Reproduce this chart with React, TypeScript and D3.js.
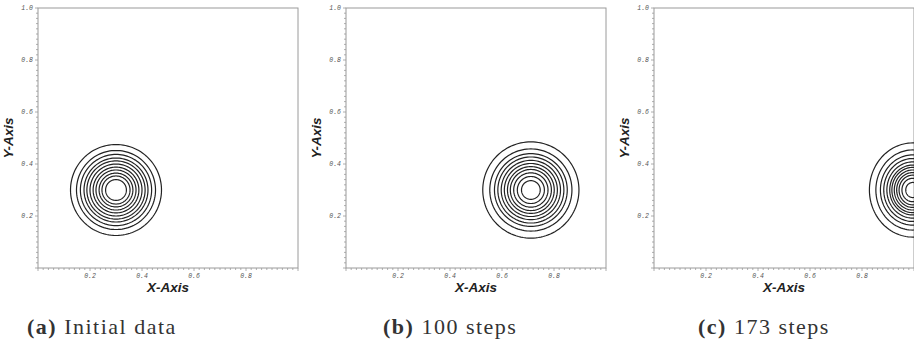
import React from "react";
import * as d3 from "d3";

// Contour plots of an advected bump at three times.
const panelIds = ["a", "b", "c"];
const panelCaptions = ["Initial data", "100 steps", "173 steps"];
// Bump centre (x, y) for each panel
const centerX = [0.3, 0.711, 0.995];
const centerY = [0.3, 0.3, 0.3];
// Contour radii (vertical extent, data units), outermost first
const radiiA = [0.175, 0.152, 0.137, 0.123, 0.112, 0.1, 0.088, 0.077, 0.065, 0.054, 0.04];
const radiiB = [0.185, 0.158, 0.14, 0.127, 0.114, 0.102, 0.09, 0.079, 0.066, 0.052, 0.036];
const radiiC = [0.181, 0.154, 0.135, 0.121, 0.108, 0.096, 0.087, 0.077, 0.067, 0.057, 0.045, 0.029];
// Squeeze of the trailing (left) side of each bump
const trailSqueeze = [1, 1, 0.92];
const tickValues = [0.2, 0.4, 0.6, 0.8, 1.0];

const radiiByPanel = [radiiA, radiiB, radiiC];

const W = 914;
const H = 343;
const SIZE = 260;
const TOP = 8;
const LEFTS = [38, 346, 654];
const CAPTION_X = [27, 383, 698];

function Panel({ i }: { i: number }) {
  const left = LEFTS[i];
  const x = d3.scaleLinear().domain([0, 1]).range([left, left + SIZE]);
  const y = d3.scaleLinear().domain([0, 1]).range([TOP + SIZE, TOP]);
  const minor = d3.range(0, 51).map((k) => k / 50);
  const angles = d3.range(0, 361, 3).map((a) => (a * Math.PI) / 180);
  const cx = centerX[i];
  const cy = centerY[i];
  const sq = trailSqueeze[i];
  let currentR = 0;
  const line = d3
    .line<number>()
    .x((t) => {
      const c = Math.cos(t);
      return x(cx + c * (c < 0 ? sq : 1) * currentR);
    })
    .y((t) => y(cy + Math.sin(t) * currentR))
    .curve(d3.curveLinearClosed);
  const clipId = `clip-${panelIds[i]}`;
  const frame = "#9a9a9a";
  const tickFont = "'Liberation Mono', 'DejaVu Sans Mono', monospace";
  return (
    <g>
      <defs>
        <clipPath id={clipId}>
          <rect x={left} y={TOP} width={SIZE} height={SIZE} />
        </clipPath>
      </defs>
      <rect x={left} y={TOP} width={SIZE} height={SIZE} fill="none" stroke={frame} strokeWidth={1} />
      {minor.map((v, k) => (
        <g key={k}>
          <line x1={left} x2={left - (k % 10 === 0 ? 3 : 2)} y1={y(v)} y2={y(v)} stroke={frame} strokeWidth={0.8} />
          <line y1={TOP + SIZE} y2={TOP + SIZE + (k % 10 === 0 ? 3 : 2)} x1={x(v)} x2={x(v)} stroke={frame} strokeWidth={0.8} />
        </g>
      ))}
      {tickValues.map((v) => (
        <text key={"y" + v} x={left - 5} y={y(v) + 2} textAnchor="end" fontFamily={tickFont} fontStyle="italic" fontSize={6.5} fill="#555">
          {v.toFixed(1)}
        </text>
      ))}
      {tickValues
        .filter((v) => v < 1)
        .map((v) => (
          <text key={"x" + v} x={x(v)} y={TOP + SIZE + 10} textAnchor="middle" fontFamily={tickFont} fontStyle="italic" fontSize={6.5} fill="#555">
            {v.toFixed(1)}
          </text>
        ))}
      <text
        x={x(0.5)}
        y={TOP + SIZE + 24}
        textAnchor="middle"
        fontFamily="'Liberation Sans', Arial, sans-serif"
        fontWeight="bold"
        fontStyle="italic"
        fontSize={13.5}
        fill="#222"
      >
        X-Axis
      </text>
      <text
        transform={`translate(${left - 25},${y(0.5)}) rotate(-90)`}
        textAnchor="middle"
        fontFamily="'Liberation Sans', Arial, sans-serif"
        fontWeight="bold"
        fontStyle="italic"
        fontSize={13.5}
        fill="#222"
      >
        Y-Axis
      </text>
      <g clipPath={`url(#${clipId})`}>
        {radiiByPanel[i].map((r, k) => {
          currentR = r;
          return <path key={k} d={line(angles) ?? ""} fill="none" stroke="#222" strokeWidth={1.2} />;
        })}
      </g>
      <text x={CAPTION_X[i]} y={334} fontFamily="'Liberation Serif', serif" fontSize={22} letterSpacing={1.5} fill="#333">
        <tspan fontWeight="bold">({panelIds[i]})</tspan>
        <tspan> {panelCaptions[i]}</tspan>
      </text>
    </g>
  );
}

export default function App() {
  return (
    <svg width={W} height={H} style={{ position: "absolute", left: 0, top: 0, background: "#fff" }}>
      <rect width={W} height={H} fill="#fff" />
      {panelIds.map((_, i) => (
        <Panel key={i} i={i} />
      ))}
    </svg>
  );
}
